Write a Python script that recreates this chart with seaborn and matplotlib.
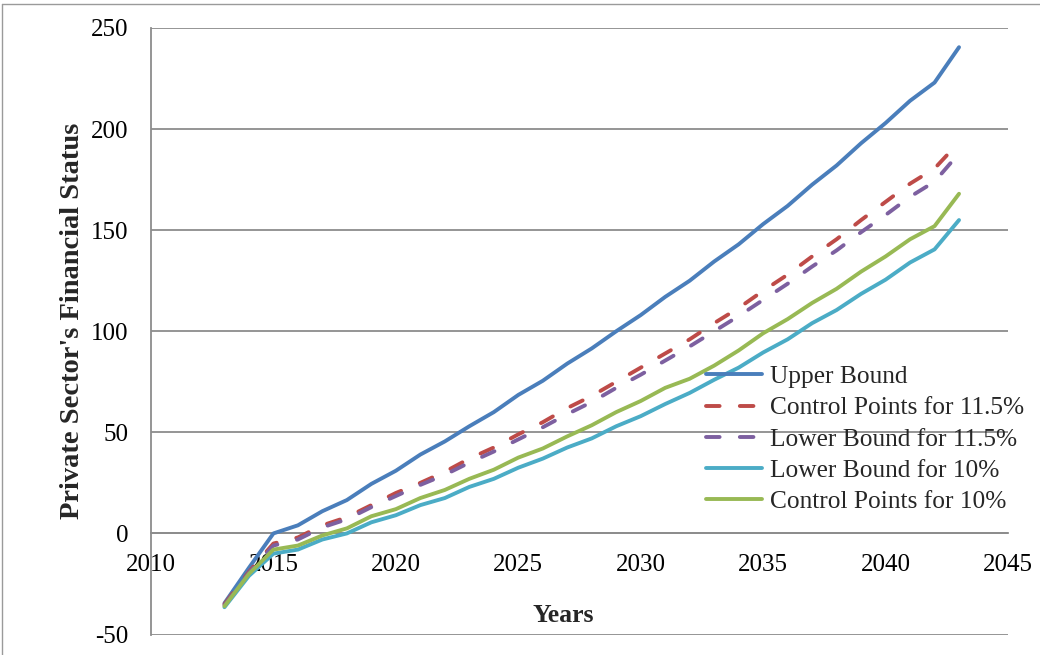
import matplotlib
matplotlib.use("Agg")
import matplotlib.pyplot as plt
from matplotlib.lines import Line2D
import seaborn as sns
import pandas as pd

years = list(range(2013, 2044))

upper_bound = [-34.5, -17, 0, 4, 11, 16.5, 24.5, 31, 39, 45.5, 53, 60, 68.5, 75.5,
               84, 91.5, 100, 108, 117, 125, 134.5, 143, 153, 162, 172.5, 182, 193,
               203, 214, 223, 240.5]
control_115 = [-35, -19, -5, -2, 4, 8, 14, 20, 25, 30.5, 37, 42.5, 49, 55, 62, 68,
               75, 82, 89, 96, 104, 111.5, 120, 128, 137, 145.5, 155, 164, 173, 180.5,
               193.5]
lower_115 = [-35.5, -19.5, -6, -3, 3, 7, 13, 18.5, 24, 29, 35, 40.5, 46.5, 52.5, 59,
             65, 72, 78.5, 85.5, 92.5, 100, 107.5, 115.5, 123.5, 132, 140, 149, 157.5,
             166.5, 174, 188]
lower_10 = [-36.5, -21, -10, -8, -3, 0, 5.5, 9, 14, 17.5, 23, 27, 32.5, 37, 42.5, 47,
            53, 58, 64, 69.5, 76, 82, 89.5, 96, 104, 110.5, 118.5, 125.5, 134, 140.5,
            155]
control_10 = [-36, -20, -8, -6, -1, 2.5, 8.5, 12, 17.5, 21.5, 27, 31.5, 37.5, 42, 48,
              53.5, 60, 65.5, 72, 76.5, 83, 90.5, 99, 106, 114, 121, 129.5, 137, 145.5,
              152, 168]

series_names = ["Upper Bound", "Control Points for 11.5%", "Lower Bound for 11.5%",
                "Lower Bound for 10%", "Control Points for 10%"]
series_values = [upper_bound, control_115, lower_115, lower_10, control_10]
series_colors = ["#4A7EBB", "#BE4B48", "#7D60A0", "#4BACC6", "#98B954"]
series_dashed = [False, True, True, False, False]

x_ticks = [2010, 2015, 2020, 2025, 2030, 2035, 2040, 2045]
y_ticks = [-50, 0, 50, 100, 150, 200, 250]

sns.set_theme(style="white")
plt.rcParams["font.family"] = ["Liberation Serif", "DejaVu Serif"]
plt.rcParams["axes.unicode_minus"] = False

fig = plt.figure(figsize=(10.4, 6.55), dpi=100)
ax = fig.add_axes([151 / 1040, 1 - 634.5 / 655, 857 / 1040, 606.5 / 655])

LW = 2.8
dash_pattern = (3.5, 5.2)
handles = []
for name, vals, color, dashed in zip(series_names, series_values, series_colors, series_dashed):
    df = pd.DataFrame({"year": years, "value": vals})
    sns.lineplot(data=df, x="year", y="value", ax=ax, color=color, linewidth=LW,
                 zorder=3)
    line = ax.lines[-1]
    line.set_solid_capstyle("round")
    line.set_solid_joinstyle("round")
    line.set_dash_capstyle("round")
    if dashed:
        line.set_dashes(dash_pattern)
    h = Line2D([], [], color=color, linewidth=LW,
               linestyle=(0, dash_pattern) if dashed else "-",
               solid_capstyle="round", dash_capstyle="round")
    handles.append(h)

grid_color = "#8C8C8C"
ax.set_xlim(2010, 2045)
ax.set_ylim(-50, 250)
ax.set_xticks(x_ticks)
ax.set_yticks(y_ticks)
ax.yaxis.grid(True, color=grid_color, linewidth=1.3)
ax.xaxis.grid(False)
ax.set_axisbelow(True)

for side in ["top", "right"]:
    ax.spines[side].set_visible(False)
ax.spines["bottom"].set_position(("data", 0))
for side in ["left", "bottom"]:
    ax.spines[side].set_color(grid_color)
    ax.spines[side].set_linewidth(1.3)

ax.tick_params(axis="both", which="major", labelsize=18, colors="black",
               length=6, width=1.3, color=grid_color, direction="out")
ax.tick_params(axis="y", pad=10)
ax.tick_params(axis="x", pad=9)

ax.set_ylabel("Private Sector's Financial Status", fontsize=20.5, fontweight="bold")
ax.yaxis.set_label_coords((85 - 151) / 857, (634.5 - 321) / 606.5)
ax.set_xlabel("Years", fontsize=18.5, fontweight="bold")
ax.xaxis.set_label_coords((563 - 151) / 857, (634.5 - 615) / 606.5, transform=ax.transAxes)
ax.xaxis.label.set_verticalalignment("center")

ax.legend(handles, series_names, loc="upper left",
          bbox_to_anchor=((706 - 151) / 857, (634.5 - 365.5) / 606.5),
          frameon=False, fontsize=18.3, borderpad=0, borderaxespad=0,
          handlelength=2.2, handletextpad=0.3, labelspacing=0.33)

# thin frame around the figure
fig.add_artist(Line2D([0.002, 0.002], [0, 0.994], transform=fig.transFigure,
                      color="#9A9A9A", linewidth=1.0))
fig.add_artist(Line2D([0.002, 1.0], [0.994, 0.994], transform=fig.transFigure,
                      color="#9A9A9A", linewidth=1.0))

fig.savefig("out.png", dpi=100)
